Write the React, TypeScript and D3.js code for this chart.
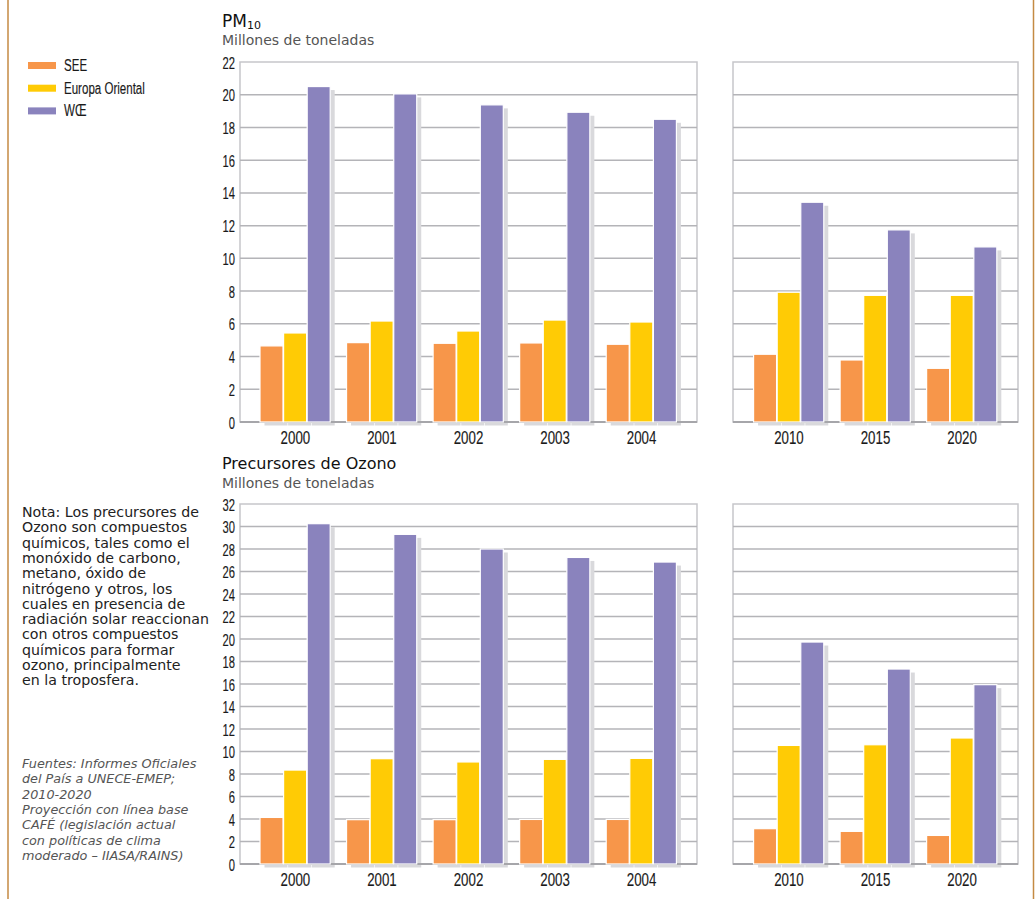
import React from 'react';
import * as d3 from 'd3';

const seriesNames = ['SEE', 'Europa Oriental', 'WŒ'];
const seriesColors = ['#f7964a', '#ffcb05', '#8a83bd'];

const histYears = ['2000', '2001', '2002', '2003', '2004'];
const projYears = ['2010', '2015', '2020'];

const pmHistSEE = [4.65, 4.85, 4.81, 4.83, 4.75];
const pmHistEO = [5.44, 6.17, 5.56, 6.23, 6.11];
const pmHistWCE = [20.5, 20.05, 19.38, 18.93, 18.5];
const pmProjSEE = [4.14, 3.79, 3.28];
const pmProjEO = [7.93, 7.74, 7.74];
const pmProjWCE = [13.43, 11.74, 10.7];

const ozHistSEE = [4.14, 3.94, 3.94, 3.96, 3.96];
const ozHistEO = [8.35, 9.36, 9.07, 9.3, 9.39];
const ozHistWCE = [30.25, 29.3, 28.0, 27.25, 26.84];
const ozProjSEE = [3.14, 2.9, 2.54];
const ozProjEO = [10.54, 10.6, 11.2];
const ozProjWCE = [19.73, 17.33, 15.94];

const pmTicks = d3.range(0, 23, 2);
const ozTicks = d3.range(0, 33, 2);

const noteLines = [
  'Nota: Los precursores de',
  'Ozono son compuestos',
  'químicos, tales como el',
  'monóxido de carbono,',
  'metano, óxido de',
  'nitrógeno y otros, los',
  'cuales en presencia de',
  'radiación solar reaccionan',
  'con otros compuestos',
  'químicos para formar',
  'ozono, principalmente',
  'en la troposfera.',
];
const sourceLines = [
  'Fuentes: Informes Oficiales',
  'del País a UNECE-EMEP;',
  '2010-2020',
  'Proyección con línea base',
  'CAFÉ (legislación actual',
  'con políticas de clima',
  'moderado – IIASA/RAINS)',
];

const NARROW = '"Liberation Sans", Arial, sans-serif';
const SANS = '"DejaVu Sans", sans-serif';
const SQUEEZE = 0.7;

function CText({ x, y, size, anchor = 'start', fill = '#1a1a1a', children }: { x: number; y: number; size: number; anchor?: string; fill?: string; children: React.ReactNode }) {
  return (
    <text
      transform={`translate(${x},${y}) scale(${SQUEEZE},1)`}
      textAnchor={anchor as any}
      fontFamily={NARROW}
      fontSize={size}
      fill={fill}
      stroke={fill}
      strokeWidth={0.15}
    >
      {children}
    </text>
  );
}

type PanelProps = {
  x: d3.ScalePoint<string>;
  y: d3.ScaleLinear<number, number>;
  left: number;
  right: number;
  series: number[][];
  ticks: number[];
  showTicks: boolean;
};

function Panel({ x, y, left, right, series, ticks, showTicks }: PanelProps) {
  const [y0, y1] = y.range();
  const pitch = 23.6;
  const bw = 23;
  const cats = x.domain();
  const bars: { cx: number; v: number; s: number; k: string }[] = [];
  cats.forEach((c, i) => {
    series.forEach((arr, s) => {
      const cx = (x(c) as number) - (pitch * 3) / 2 + s * pitch;
      bars.push({ cx, v: arr[i], s, k: c + s });
    });
  });
  return (
    <g>
      <rect x={left} y={y1} width={right - left} height={y0 - y1} fill="#fff" stroke="#c6c6ca" strokeWidth={1.5} />
      {ticks.filter((t) => t > 0 && t < ticks[ticks.length - 1]).map((t) => (
        <line key={t} x1={left} x2={right} y1={y(t)} y2={y(t)} stroke="#b4b4b8" strokeWidth={1.5} />
      ))}
      {bars.map((b) => (
        <rect key={'sh' + b.k} x={b.cx + 4.5} y={y(b.v) + 3.5} width={bw} height={y0 - y(b.v)} fill="#d9d9dc" />
      ))}
      <line x1={left} x2={right} y1={y0} y2={y0} stroke="#a6a6aa" strokeWidth={2} />
      {bars.map((b) => (
        <rect key={'b' + b.k} x={b.cx} y={y(b.v)} width={bw} height={y0 - y(b.v)} fill={seriesColors[b.s]} stroke="#fff" strokeWidth={1.2} />
      ))}
      {cats.map((c) => (
        <CText key={c} x={x(c) as number} y={y0 + 22} size={19} anchor="middle">
          {c}
        </CText>
      ))}
      {showTicks &&
        ticks.map((t) => (
          <CText key={'t' + t} x={left - 5} y={y(t) + 6.5} size={16} anchor="end">
            {t}
          </CText>
        ))}
    </g>
  );
}

export default function App() {
  const yPm = d3.scaleLinear().domain([0, 22]).range([422, 62]);
  const yOz = d3.scaleLinear().domain([0, 32]).range([864, 504]);
  const xHist = d3.scalePoint<string>().domain(histYears).range([240, 697]).padding(0.64);
  const xProj = d3.scalePoint<string>().domain(projYears).range([733, 1018]).padding(0.647);

  return (
    <svg width={1035} height={899} style={{ position: 'absolute', left: 0, top: 0, background: '#fff' }}>
      <rect x={0} y={0} width={1035} height={899} fill="#fff" />
      <line x1={8} x2={8} y1={0} y2={899} stroke="#c48a43" strokeWidth={1.5} />
      <line x1={1033.5} x2={1033.5} y1={0} y2={899} stroke="#c48a43" strokeWidth={1.5} />

      {seriesNames.map((n, i) => (
        <g key={n}>
          <rect x={28} y={62 + i * 22.7} width={28} height={7} fill={seriesColors[i]} />
          <CText x={64} y={71 + i * 22.7} size={16.5}>
            {n}
          </CText>
        </g>
      ))}

      <text x={222} y={27} fontFamily={SANS} fontSize={17} fill="#111">
        PM<tspan fontSize={11} dy={2}>10</tspan>
      </text>
      <text x={222} y={45} fontFamily={SANS} fontSize={14} fill="#555">
        Millones de toneladas
      </text>
      <text x={222} y={468.5} fontFamily={SANS} fontSize={16} fill="#111">
        Precursores de Ozono
      </text>
      <text x={222} y={488} fontFamily={SANS} fontSize={14} fill="#555">
        Millones de toneladas
      </text>

      <Panel x={xHist} y={yPm} left={240} right={697} series={[pmHistSEE, pmHistEO, pmHistWCE]} ticks={pmTicks} showTicks />
      <Panel x={xProj} y={yPm} left={733} right={1018} series={[pmProjSEE, pmProjEO, pmProjWCE]} ticks={pmTicks} showTicks={false} />
      <Panel x={xHist} y={yOz} left={240} right={697} series={[ozHistSEE, ozHistEO, ozHistWCE]} ticks={ozTicks} showTicks />
      <Panel x={xProj} y={yOz} left={733} right={1018} series={[ozProjSEE, ozProjEO, ozProjWCE]} ticks={ozTicks} showTicks={false} />

      {noteLines.map((l, i) => (
        <text key={'n' + i} x={22} y={517 + i * 15.3} fontFamily={SANS} fontSize={14.2} fill="#222">
          {l}
        </text>
      ))}
      {sourceLines.map((l, i) => (
        <text key={'s' + i} x={22} y={768 + i * 15.3} fontFamily={SANS} fontSize={12.8} fontStyle="italic" fill="#555">
          {l}
        </text>
      ))}
    </svg>
  );
}
